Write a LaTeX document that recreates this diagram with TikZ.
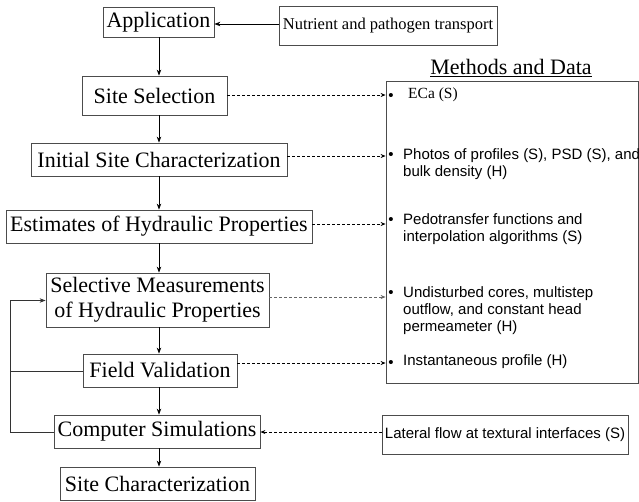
\documentclass[tikz,border=0pt]{standalone}
\usepackage{fontspec}
\setmainfont{Liberation Serif}
\setsansfont{Liberation Sans}
\usetikzlibrary{arrows.meta}
\tikzset{
  box/.style={draw=black!70, line width=0.8pt, inner sep=0pt, font=\fontsize{22}{25}\selectfont, align=center},
  sbox/.style={draw=black!70, line width=0.8pt, inner sep=0pt},
  conn/.style={line width=0.8pt, -{Stealth[length=6pt,width=4.5pt]}},
  plain/.style={line width=0.8pt, black!80},
  dasharrow/.style={line width=0.8pt, dash pattern=on 3pt off 2pt, -{Stealth[length=5pt,width=4pt]}},
  bul/.style={font=\sffamily\fontsize{15}{17}\selectfont, inner sep=0pt},
  itemtxt/.style={font=\sffamily\fontsize{15}{17}\selectfont, inner sep=0pt, align=left},
}
\begin{document}
\begin{tikzpicture}[x=1pt,y=-1pt]
\useasboundingbox (0,0) rectangle (639,501);
% left column
\node[box, minimum width=111pt, minimum height=30pt] (app) at (158.5,22) {Application};
\node[sbox, minimum width=218pt, minimum height=39pt, font=\fontsize{16.5}{19}\selectfont] (nut) at (388,25.5) {Nutrient and pathogen transport};
\node[box, minimum width=145pt, minimum height=39pt] (ss) at (154.5,95.5) {Site Selection};
\node[box, minimum width=256pt, minimum height=33pt] (isc) at (159,159.5) {Initial Site Characterization};
\node[box, minimum width=306pt, minimum height=33pt] (est) at (159,226.5) {Estimates of Hydraulic Properties};
\node[box, minimum width=223pt, minimum height=54pt] (sel) at (157.5,300) {Selective Measurements\\ of Hydraulic Properties};
\node[box, minimum width=154pt, minimum height=33pt] (fv) at (160,370.5) {Field Validation};
\node[box, minimum width=206pt, minimum height=33pt] (cs) at (157,431.5) {Computer Simulations};
\node[box, minimum width=195pt, minimum height=33pt] (sc) at (157.5,483.5) {Site Characterization};
% methods box
\node[font=\fontsize{22}{25}\selectfont, inner sep=0pt] (mt) at (511,68) {\underline{Methods and Data}};
\node[sbox, minimum width=252pt, minimum height=302pt] (md) at (512,232) {};
\node[sbox, minimum width=246pt, minimum height=39pt, font=\sffamily\fontsize{15}{17}\selectfont] (lat) at (505,434.5) {Lateral flow at textural interfaces (S)};
% bullets and items
\node[bul] (b1) at (391,96.5) {•};
\node[font=\fontsize{15.5}{17}\selectfont, inner sep=0pt, anchor=west] (t1) at (408,95) {ECa (S)};
\node[bul] (b2) at (391,155.5) {•};
\node[itemtxt, anchor=north west] (t2) at (403,148) {Photos of profiles (S), PSD (S), and\\bulk density (H)};
\node[bul] (b3) at (391,220.5) {•};
\node[itemtxt, anchor=north west] (t3) at (403,213) {Pedotransfer functions and\\interpolation algorithms (S)};
\node[bul] (b4) at (391,293.5) {•};
\node[itemtxt, anchor=north west] (t4) at (403,286) {Undisturbed cores, multistep\\outflow, and constant head\\permeameter (H)};
\node[bul] (b5) at (391,363.5) {•};
\node[itemtxt, anchor=west] (t5) at (403,362) {Instantaneous profile (H)};
% column of arrows
\coordinate (col) at (159,0);
\draw[conn] (nut.west |- 0,24) -- (app.east |- 0,24);
\draw[conn] (app.south -| col) -- (ss.north -| col);
\draw[conn] (ss.south -| col) -- (isc.north -| col);
\draw[conn] (isc.south -| col) -- (est.north -| col);
\draw[conn] (est.south -| col) -- (sel.north -| col);
\draw[conn] (sel.south -| col) -- (fv.north -| col);
\draw[conn] (fv.south -| col) -- (cs.north -| col);
\draw[conn] (cs.south -| col) -- (sc.north -| col);
% feedback loop
\coordinate (lx) at (10,0);
\draw[plain] (fv.west |- 0,371) -- (lx |- 0,371);
\draw[plain] (cs.west |- 0,432) -- (lx |- 0,432) -- (lx |- 0,300.5);
\draw[conn, black!80] (lx |- 0,300.5) -- (sel.west |- 0,300.5);
% dashed arrows
\draw[dasharrow] (ss.east |- 0,95) -- (md.west |- 0,95);
\draw[dasharrow] (isc.east |- 0,156) -- (md.west |- 0,156);
\draw[dasharrow] (est.east |- 0,224) -- (md.west |- 0,224);
\draw[dasharrow, black!60] (sel.east |- 0,297) -- (md.west |- 0,297);
\draw[dasharrow] (fv.east |- 0,363) -- (md.west |- 0,363);
\draw[dasharrow] (lat.west |- 0,432) -- (cs.east |- 0,432);
\end{tikzpicture}
\end{document}
